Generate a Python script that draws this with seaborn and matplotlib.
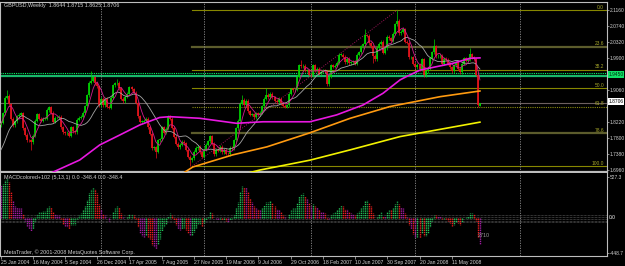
import numpy as np
import pandas as pd
import matplotlib
matplotlib.use("Agg")
import matplotlib.pyplot as plt
import matplotlib.transforms as mtransforms
import seaborn as sns

plt.rcParams["font.family"] = ["Liberation Sans", "DejaVu Sans"]

# ---------------- data ----------------
# weekly closes before the visible range (Sep 2003 - Jan 2004), used to seed averages
PRE_CLOSE = [1.6280, 1.6600, 1.6620, 1.6650, 1.6750, 1.6890, 1.6980, 1.6750, 1.6660, 1.6810,
             1.7160, 1.7250, 1.7480, 1.7600, 1.7660, 1.7860, 1.8270, 1.8280, 1.8130]

# weekly closes, week 0 = 25 Jan 2004 ... week 238 = 17 Aug 2008
CLOSE = [
    1.8200, 1.8450, 1.8850, 1.8900, 1.8680, 1.8300, 1.8130, 1.8230, 1.8370, 1.8400,
    1.8450, 1.8050, 1.7880, 1.7740, 1.7730, 1.7680, 1.7850, 1.8250, 1.8420, 1.8300,
    1.8250, 1.8300, 1.8300, 1.8530, 1.8600, 1.8460, 1.8220, 1.8320, 1.8330, 1.8350,
    1.8080, 1.7940, 1.7920, 1.7930, 1.7850, 1.8080, 1.7970, 1.7940, 1.8270, 1.8330,
    1.8350, 1.8460, 1.8630, 1.8920, 1.9250, 1.9300, 1.9390, 1.9230, 1.9160,
    1.8650, 1.8830, 1.8650, 1.8830, 1.8620, 1.8590, 1.8850, 1.9180, 1.9230, 1.9250,
    1.9100, 1.8820, 1.8760, 1.8880, 1.8950, 1.9130, 1.9070, 1.8980, 1.8720, 1.8370,
    1.8220, 1.8220, 1.8250, 1.8300, 1.8080, 1.7910, 1.7530, 1.7550, 1.7430, 1.7740,
    1.7760, 1.8080, 1.7930, 1.8040, 1.8350, 1.8300, 1.8060, 1.7830, 1.7640, 1.7550,
    1.7610, 1.7700, 1.7650, 1.7480, 1.7300, 1.7210, 1.7260, 1.7430, 1.7530, 1.7560,
    1.7420, 1.7300,
    1.7480, 1.7620, 1.7710, 1.7840, 1.7640, 1.7370, 1.7480, 1.7460, 1.7560, 1.7420,
    1.7480, 1.7380, 1.7360, 1.7530, 1.7520, 1.7740, 1.8050, 1.8250, 1.8700, 1.8800,
    1.8660, 1.8770, 1.8500, 1.8400, 1.8420, 1.8340, 1.8440, 1.8420, 1.8460, 1.8630,
    1.8820, 1.8930, 1.8870, 1.8960, 1.8870, 1.8770, 1.8730, 1.8830, 1.8710, 1.8640,
    1.8620, 1.8650, 1.8960, 1.9070, 1.9050, 1.9060, 1.9410, 1.9700, 1.9680, 1.9690,
    1.9580, 1.9580, 1.9460,
    1.9450, 1.9710, 1.9580, 1.9610, 1.9480, 1.9530, 1.9580, 1.9550, 1.9210, 1.9400,
    1.9710, 1.9670, 1.9690, 1.9770, 1.9980, 1.9980, 1.9930, 1.9780, 1.9880, 1.9760,
    1.9780, 1.9810, 1.9750, 1.9980, 2.0050, 2.0200, 2.0260, 2.0490, 2.0480, 2.0290,
    2.0210, 1.9950, 1.9860, 2.0160, 2.0270, 2.0320, 2.0030, 2.0150, 2.0460, 2.0420,
    2.0350, 2.0530, 2.0790, 2.0870, 2.0550, 2.0590, 2.0650, 2.0330, 2.0300, 1.9920,
    1.9920, 1.9750,
    1.9650, 1.9720, 1.9600, 1.9870, 1.9450, 1.9550, 1.9620, 1.9890, 2.0050, 2.0200,
    1.9950, 1.9950, 1.9950, 1.9740, 1.9880, 1.9850, 1.9750, 1.9650, 1.9550, 1.9700,
    1.9780, 1.9610, 1.9520, 1.9740, 1.9890, 1.9820, 1.9870, 2.0000, 1.9920, 1.9870,
    1.9460, 1.8650, 1.8706,
]
LAST_OHLC = (1.8644, 1.8715, 1.8625, 1.8706)
HIGH_NOTES = {3: 1.9050, 45: 1.9550, 58: 1.9350, 120: 1.8930, 132: 1.9110,
              149: 1.9850, 181: 2.0655, 197: 2.1160, 215: 2.0395, 233: 2.0150}
LOW_NOTES = {15: 1.7480, 77: 1.7270, 94: 1.7045, 185: 1.9760, 237: 1.8620}

# long moving averages (week, price)
MAG_W = [22, 39.3, 49.2, 59.1, 69.1, 79.0, 84.0, 98.9, 117.1, 130.2, 153.6, 166.8,
         179.9, 189.9, 198.3, 201.6, 208.3, 216.5, 224.7, 233.1, 238]
MAG_V = [1.680, 1.7215, 1.761, 1.787, 1.8136, 1.8333, 1.8354, 1.8312, 1.818, 1.822,
         1.822, 1.840, 1.866, 1.897, 1.932, 1.941, 1.958, 1.967, 1.976, 1.989, 1.990]
ORG_W = [91.0, 95.4, 115.3, 132.2, 153.6, 173.5, 193.3, 218.2, 238]
ORG_V = [1.688, 1.703, 1.735, 1.756, 1.793, 1.831, 1.862, 1.888, 1.903]
YEL_W = [122.0, 128.7, 153.6, 173.5, 198.3, 238]
YEL_V = [1.686, 1.695, 1.721, 1.748, 1.783, 1.821]

# fibonacci retracement
FIB_LOW = (95, 1.7045)
FIB_HIGH = (197, 2.1160)
FIB_LEVELS = [0.0, 23.6, 38.2, 50.0, 61.8, 78.6, 100.0]

GREEN_LEVELS = [1.9502, 1.9433]
CURRENT = 1.8706

PRICE_TICKS = [2.1160, 2.0740, 2.0320, 1.9900, 1.9060, 1.8220, 1.7800, 1.7380, 1.6960]
DATE_WEEKS = list(range(0, 225, 16))
DATE_LABELS = ["25 Jan 2004", "16 May 2004", "5 Sep 2004", "26 Dec 2004", "17 Apr 2005",
               "7 Aug 2005", "27 Nov 2005", "19 Mar 2006", "9 Jul 2006", "29 Oct 2006",
               "18 Feb 2007", "10 Jun 2007", "30 Sep 2007", "20 Jan 2008", "11 May 2008"]
YEAR_WEEKS = [50, 101, 154, 206, 258]
MACD_TOP, MACD_BOT = 527.3, -448.7

# ---------------- layout ----------------
W, H = 625, 266
fig = plt.figure(figsize=(W / 100, H / 100), dpi=100, facecolor="black")
PX0, PXW = 0.6, 2.014          # pixel of week 0 and pixels per week


def add_ax(x0, y0, x1, y1):
    ax = fig.add_axes([x0 / W, 1 - y1 / H, (x1 - x0) / W, (y1 - y0) / H])
    ax.set_facecolor("black")
    return ax


def wk(px):
    return (px - PX0) / PXW


FS = 3.9       # header / panel texts
FSA = 3.5      # axis labels
TXT = "#d2d2d2"
BORDER = "#bdbdbd"

ax = add_ax(0, 2, 607, 172)
ax.set_xlim(wk(0), wk(607))
ax.set_ylim(1.6899, 2.137)

n = len(CLOSE)
weeks = np.arange(n)
opens = [PRE_CLOSE[-1]] + CLOSE[:-1]
opens[-1] = LAST_OHLC[0]
opens = np.array(opens)
closes = np.array(CLOSE)
WICK = 0.004
body_hi = np.maximum(opens, closes)
body_lo = np.minimum(opens, closes)
highs = body_hi + WICK
lows = body_lo - WICK
for k, v in HIGH_NOTES.items():
    highs[k] = v
for k, v in LOW_NOTES.items():
    lows[k] = v
highs[-1], lows[-1] = LAST_OHLC[1], LAST_OHLC[2]
body_hi = np.maximum(body_hi, body_lo + 0.0012)
bull = closes >= opens
cols = np.where(bull, "#00d400", "#e8141c")

# horizontal reference lines
ax.axhline(CURRENT, color="#6e6060", lw=0.8, zorder=1)
ax.axhline(GREEN_LEVELS[0], color="#00ff66", lw=0.8, ls=(0, (1, 1)), zorder=1)
ax.axhline(GREEN_LEVELS[1], color="#19b86a", lw=1.6, zorder=1)

# fibonacci
rng = FIB_HIGH[1] - FIB_LOW[1]
for lev in FIB_LEVELS:
    y = FIB_HIGH[1] - rng * lev / 100
    if lev in (23.6, 78.6):
        c, lw, ls = "#5c5c2c", 1.6, "-"
    elif lev == 61.8:
        c, lw, ls = "#8a8a10", 0.8, (0, (1, 1))
    else:
        c, lw, ls = "#878700", 0.8, "-"
    ax.plot([FIB_LOW[0], wk(607)], [y, y], color=c, lw=lw, ls=ls, zorder=1)
    ax.text(wk(604), y + 0.0012, f"{lev:.1f}", color="#a6a62a", fontsize=FSA,
            ha="right", va="bottom", zorder=6)
ax.plot([FIB_LOW[0], FIB_HIGH[0]], [FIB_LOW[1], FIB_HIGH[1]], color="#a0145a",
        lw=0.7, ls=(0, (1, 1.5)), zorder=2)

for w in YEAR_WEEKS:
    ax.axvline(w, color="#8c8c8c", lw=0.6, ls=(0, (1.5, 1.5)), zorder=1)

# candles
ax.vlines(weeks, lows, highs, colors=cols, lw=0.5, zorder=3)
ax.vlines(weeks, body_lo, body_hi, colors=cols, lw=1.25, zorder=3)

# moving averages
allc = pd.Series(PRE_CLOSE + CLOSE)
npre = len(PRE_CLOSE)
ma_gray = allc.rolling(15).mean().values[npre:]
ma_short = allc.rolling(5).mean().values[npre:]
sns.lineplot(x=weeks, y=ma_gray, ax=ax, color="#a6a6a6", lw=0.6, zorder=4, legend=False)
sns.lineplot(x=weeks, y=ma_short, ax=ax, color="#d41c8e", lw=0.6, zorder=4, legend=False)
sns.lineplot(x=MAG_W, y=MAG_V, ax=ax, color="#e818e0", lw=1.2, zorder=4, legend=False)
sns.lineplot(x=ORG_W, y=ORG_V, ax=ax, color="#ff9a10", lw=1.2, zorder=4, legend=False)
sns.lineplot(x=YEL_W, y=YEL_V, ax=ax, color="#f2f200", lw=1.2, zorder=4, legend=False)

# axis styling
ax.yaxis.tick_right()
ax.set_yticks(PRICE_TICKS)
ax.set_yticklabels([f"{v:.4f}" for v in PRICE_TICKS])
ax.tick_params(axis="y", colors=BORDER, labelcolor=TXT, labelsize=FSA, length=1.5,
               width=0.5, pad=0.6)
ax.set_xticks([])
for s in ax.spines.values():
    s.set_color(BORDER)
    s.set_linewidth(0.8)
ax.spines["bottom"].set_linewidth(1.6)
ax.set_xlabel("")
ax.set_ylabel("")

blend = mtransforms.blended_transform_factory(ax.transAxes, ax.transData)
ax.text(1.0022, 1.9466, "1.9450", transform=blend, fontsize=FSA, color="#003010",
        va="center", ha="left", clip_on=False, zorder=7,
        bbox=dict(fc="#10e066", ec="none", pad=0.6))
ax.text(1.0022, CURRENT + 0.004, "1.8706", transform=blend, fontsize=FSA, color="black",
        va="center", ha="left", clip_on=False, zorder=7,
        bbox=dict(fc="white", ec="none", pad=0.6))

fig.text(4 / W, 1 - 5.5 / H, "GBPUSD,Weekly  1.8644 1.8715 1.8625 1.8706",
         color=TXT, fontsize=FS, va="center", ha="left")

# ---------------- MACD panel ----------------
ema5 = allc.ewm(span=5, adjust=False).mean()
ema13 = allc.ewm(span=13, adjust=False).mean()
macd = ((ema5 - ema13) * 10000).values
d1 = np.diff(macd, prepend=macd[0])
d2 = np.diff(d1, prepend=d1[0])
macd, d1, d2 = macd[npre:], d1[npre:], d2[npre:]
mcols = np.where(d1 >= 0, np.where(d2 >= 0, "#22c257", "#169a44"),
                 np.where(d2 < 0, "#ee1c1c", "#a01aa0"))

mx = add_ax(0, 173, 607, 256)
mx.set_xlim(wk(0), wk(607))
mx.set_ylim(-487, 572)
for yb in [42, 14, -14, -38, -58]:
    mx.axhline(yb, color="#6a6a6a", lw=0.5, ls=(0, (1, 1)), zorder=1)
for w in YEAR_WEEKS:
    mx.axvline(w, color="#8c8c8c", lw=0.6, ls=(0, (1.5, 1.5)), zorder=1)
mx.vlines(weeks, 0, macd, colors=mcols, lw=1.0, ls=(0, (1, 0.6)), zorder=3)

mx.yaxis.tick_right()
mx.set_yticks([MACD_TOP, MACD_BOT])
mx.set_yticklabels([f"{MACD_TOP:.1f}", f"{MACD_BOT:.1f}"])
mx.tick_params(axis="y", colors=BORDER, labelcolor=TXT, labelsize=FSA, length=1.5,
               width=0.5, pad=0.6)
mx.set_xticks(DATE_WEEKS)
mx.set_xticklabels(DATE_LABELS, ha="left")
mx.tick_params(axis="x", colors=BORDER, labelcolor=TXT, labelsize=3.7, length=2,
               width=0.5, pad=0.8)
for s in mx.spines.values():
    s.set_color(BORDER)
    s.set_linewidth(0.8)
mx.spines["top"].set_visible(False)
mx.text(1.0022, 0, "0.0", transform=mtransforms.blended_transform_factory(mx.transAxes, mx.transData),
        fontsize=FSA, color="white", va="center", ha="left", clip_on=False)
mx.text(wk(478), -220, "2710", color="#9a9a9a", fontsize=FS, va="center", ha="left")

fig.text(4 / W, 1 - 178 / H, "MACDcolored+102 (5,13,1) 0.0 -348.4 0.0 -348.4",
         color=TXT, fontsize=FS, va="center", ha="left")
fig.text(4 / W, 1 - 252.5 / H, "MetaTrader, \u00a9 2001-2008 MetaQuotes Software Corp.",
         color=TXT, fontsize=FS, va="center", ha="left")

fig.savefig("out.png", dpi=100, facecolor="black")
